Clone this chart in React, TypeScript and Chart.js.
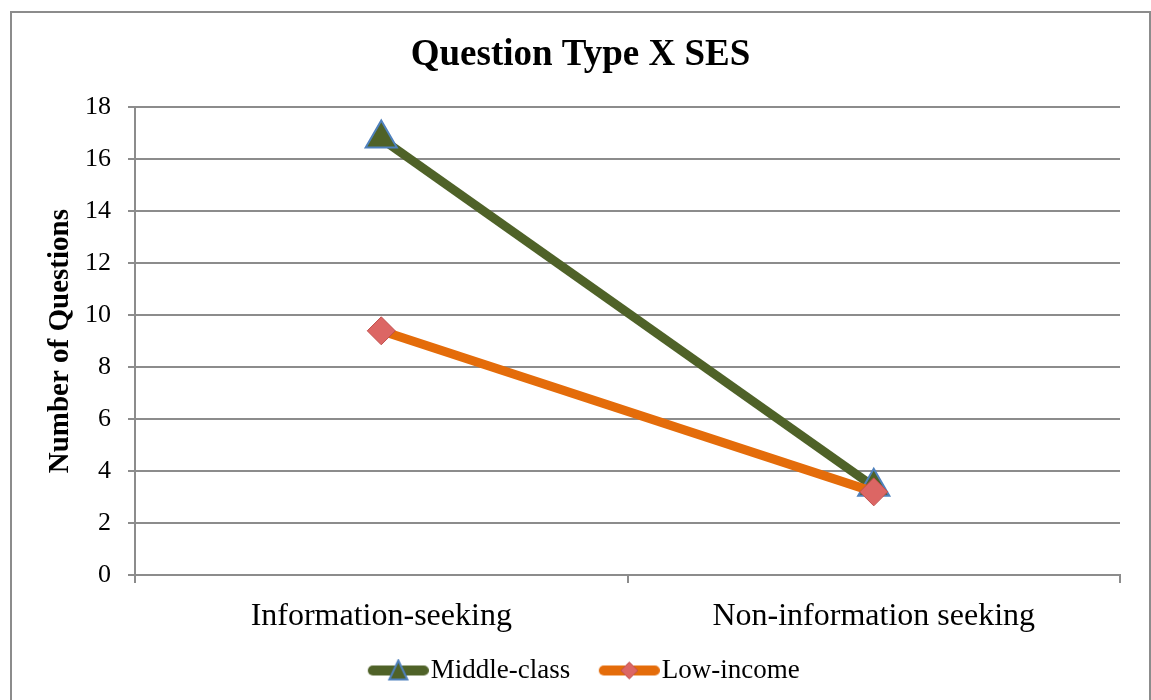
import React, { useEffect, useRef } from "react";
import { Chart, registerables } from "chart.js";

Chart.register(...registerables);

const categories = ["Information-seeking", "Non-information seeking"];
const seriesNames = ["Middle-class", "Low-income"];
const middleClass = [16.8, 3.4];
const lowIncome = [9.4, 3.2];
const yTickValues = [0, 2, 4, 6, 8, 10, 12, 14, 16, 18];

const FONT = "'Liberation Serif', 'Times New Roman', serif";
const GREEN = "#4f6228";
const ORANGE = "#e46c0a";
const TRI_BORDER = "#4f81bd";
const DIAMOND_FILL = "#dc6664";
const DIAMOND_BORDER = "#c0504d";
const GRID = "#8c8c8c";

function makeLegendIcon(kind: "tri" | "dia"): HTMLCanvasElement {
  const c = document.createElement("canvas");
  c.width = 81;
  c.height = 24;
  const ctx = c.getContext("2d")!;
  const cy = 12;
  const mx = 50.5;
  ctx.lineCap = "round";
  ctx.lineWidth = 10;
  ctx.strokeStyle = kind === "tri" ? GREEN : ORANGE;
  ctx.beginPath();
  ctx.moveTo(25, cy);
  ctx.lineTo(76, cy);
  ctx.stroke();
  ctx.lineCap = "butt";
  ctx.beginPath();
  if (kind === "tri") {
    ctx.moveTo(mx, cy - 10);
    ctx.lineTo(mx + 9, cy + 9);
    ctx.lineTo(mx - 9, cy + 9);
    ctx.closePath();
    ctx.fillStyle = GREEN;
    ctx.fill();
    ctx.lineWidth = 2;
    ctx.strokeStyle = TRI_BORDER;
    ctx.stroke();
  } else {
    ctx.moveTo(mx, cy - 8.5);
    ctx.lineTo(mx + 8.5, cy);
    ctx.lineTo(mx, cy + 8.5);
    ctx.lineTo(mx - 8.5, cy);
    ctx.closePath();
    ctx.fillStyle = DIAMOND_FILL;
    ctx.fill();
    ctx.lineWidth = 1;
    ctx.strokeStyle = DIAMOND_BORDER;
    ctx.stroke();
  }
  return c;
}

const legendShift = {
  id: "legendShift",
  afterLayout(chart: any) {
    const l = chart.legend;
    if (l) {
      l.left -= 1;
      l.right -= 1;
    }
  },
};

export default function App() {
  const ref = useRef<HTMLCanvasElement | null>(null);

  useEffect(() => {
    if (!ref.current) return;
    const icons = [makeLegendIcon("tri"), makeLegendIcon("dia")];
    const chart = new Chart(ref.current, {
      type: "line",
      data: {
        labels: categories,
        datasets: [
          {
            label: seriesNames[0],
            data: middleClass,
            borderColor: GREEN,
            borderWidth: 9,
            pointStyle: "triangle",
            pointRadius: 18,
            pointBackgroundColor: GREEN,
            pointBorderColor: TRI_BORDER,
            pointBorderWidth: 2,
            order: 1,
          },
          {
            label: seriesNames[1],
            data: lowIncome,
            borderColor: ORANGE,
            borderWidth: 9,
            pointStyle: "rectRot",
            pointRadius: 14,
            pointBackgroundColor: DIAMOND_FILL,
            pointBorderColor: DIAMOND_BORDER,
            pointBorderWidth: 1,
            order: 0,
          },
        ],
      },
      options: {
        responsive: false,
        animation: false,
        layout: { padding: { left: 0, right: 0, top: 0, bottom: 19 } },
        plugins: {
          title: {
            display: true,
            text: "Question Type X SES",
            color: "#000",
            font: { family: FONT, size: 37, weight: "bold" },
            padding: { top: 20, bottom: 30 },
          },
          legend: {
            position: "bottom",
            labels: {
              usePointStyle: true,
              pointStyleWidth: 58,
              color: "#000",
              padding: 20,
              font: { family: FONT, size: 27 },
              generateLabels: (ch: any) =>
                ch.data.datasets.map((ds: any, i: number) => ({
                  text: ds.label,
                  pointStyle: icons[i],
                  fillStyle: "transparent",
                  strokeStyle: "transparent",
                  lineWidth: 0,
                  hidden: false,
                  datasetIndex: i,
                  fontColor: "#000",
                })),
            },
          },
          tooltip: { enabled: false },
        },
        scales: {
          x: {
            offset: true,
            grid: {
              display: true,
              drawOnChartArea: false,
              drawTicks: true,
              tickLength: 8,
              color: GRID,
              lineWidth: 2,
              offset: true,
            },
            border: { color: GRID, width: 2 },
            ticks: {
              color: "#000",
              font: { family: FONT, size: 32 },
              padding: 14,
              maxRotation: 0,
              autoSkip: false,
            },
            afterFit: (s: any) => {
              s.height = 62;
            },
          },
          y: {
            min: 0,
            max: 18,
            afterBuildTicks: (s: any) => {
              s.ticks = yTickValues.map((v) => ({ value: v }));
            },
            ticks: {
              color: "#000",
              font: { family: FONT, size: 26 },
              padding: 17,
            },
            grid: { color: GRID, lineWidth: 2, tickLength: 7 },
            border: { color: GRID, width: 2 },
            title: {
              display: true,
              text: "Number of Questions",
              color: "#000",
              font: { family: FONT, size: 29, weight: "bold" },
              padding: { top: 31, bottom: 0 },
            },
            afterFit: (s: any) => {
              s.width = 123;
            },
          },
          yRight: {
            position: "right",
            display: true,
            min: 0,
            max: 18,
            ticks: { display: false },
            grid: { display: false, drawTicks: false },
            border: { display: false },
            afterFit: (s: any) => {
              s.width = 29;
            },
          },
        },
      },
      plugins: [legendShift],
    } as any);
    return () => chart.destroy();
  }, []);

  return (
    <div
      style={{
        position: "absolute",
        left: 10,
        top: 11,
        width: 1141,
        height: 720,
        boxSizing: "border-box",
        border: "2px solid #8c8c8c",
        background: "#fff",
      }}
    >
      <canvas ref={ref} width={1137} height={700} style={{ display: "block" }} />
    </div>
  );
}
